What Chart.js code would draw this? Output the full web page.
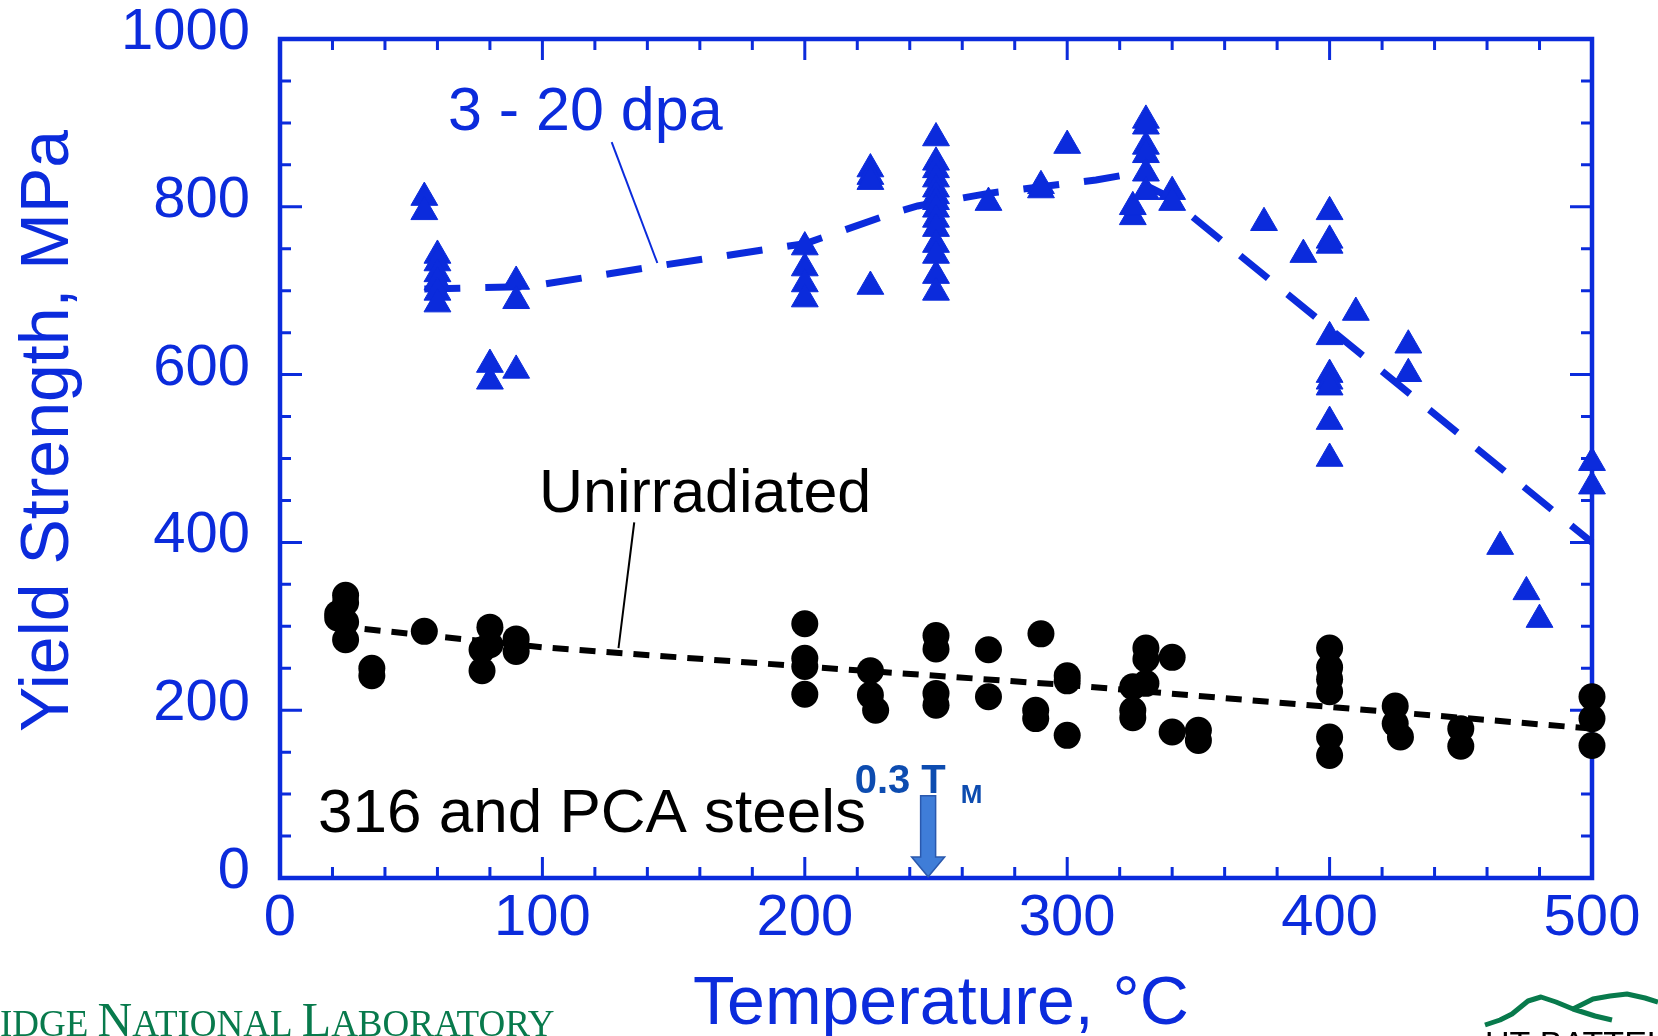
<!DOCTYPE html>
<html>
<head>
<meta charset="utf-8">
<script src="https://cdn.jsdelivr.net/npm/chart.js@4.4.1/dist/chart.umd.min.js"></script>
<style>
  html, body { margin: 0; padding: 0; background: #fff; }
  #wrap { width: 1658px; height: 1036px; }
</style>
</head>
<body>
<div id="wrap"><canvas id="c" width="1658" height="1036"></canvas></div>
<script>
// irradiated (3 - 20 dpa) yield strength, triangles
const irrTemp = [55, 55,
  60, 60, 60, 60, 60, 60,
  80, 80,
  90, 90, 90,
  200, 200, 200, 200,
  225, 225, 225, 225,
  250, 250, 250, 250, 250, 250, 250, 250, 250, 250, 250, 250, 250, 250,
  270, 290, 290, 300,
  325, 325,
  330, 330, 330, 330, 330, 330,
  340, 340, 375, 390,
  400, 400, 400, 400, 400, 400, 400, 400, 400,
  410, 430, 430, 465, 475, 480, 500, 500];
const irrYS = [811, 794,
  742, 733, 720, 710, 698, 684,
  612, 592,
  711, 688, 605,
  752, 727, 708, 690,
  845, 836, 830, 705,
  882, 853, 844, 833, 821, 813, 806, 797, 785, 774, 755, 742, 718, 698,
  805, 825, 820, 873,
  788, 800,
  903, 896, 872, 862, 840, 818,
  818, 805, 781, 743,
  794, 760, 754, 645, 600, 592, 585, 544, 500,
  674, 635, 601, 395, 341, 308, 495, 467];

// unirradiated yield strength, circles
const unirrTemp = [22, 22, 25, 25, 25, 25, 35, 35, 55, 77, 77, 80, 80, 90, 90,
  200, 200, 200, 200, 225, 225, 227,
  250, 250, 250, 250, 270, 270, 288, 288, 290,
  300, 300, 300, 325, 325, 325, 330, 330, 330, 340, 340, 350, 350,
  400, 400, 400, 400, 400, 400, 425, 425, 427, 450, 450, 500, 500, 500];
const unirrYS = [315, 310, 337, 328, 305, 284, 250, 241, 294, 272, 247, 299, 278, 285, 270,
  303, 262, 252, 219, 247, 218, 200,
  289, 273, 220, 206, 272, 216, 200, 190, 291,
  241, 235, 170, 228, 200, 191, 274, 261, 232, 263, 174, 176, 164,
  274, 251, 237, 222, 168, 146, 205, 184, 168, 178, 157, 216, 190, 158];

// hand-drawn trend curves
const dpaFitTemp = [55, 95, 143, 187, 200, 213, 234, 243, 270, 290, 311, 322, 338, 500];
const dpaFitYS = [702, 705, 729, 750, 756, 770, 793, 801, 816, 824, 832, 838, 813, 400];
const unirrFitTemp = [22, 100, 200, 300, 400, 500];
const unirrFitYS = [300, 275, 252, 230, 204, 178];

// axes
const xMin = 0, xMax = 500, xMajor = 100, xMinor = 20;
const yMin = 0, yMax = 1000, yMajor = 200, yMinor = 50;
const tmTemp = 247; // 0.3 T_M marker

const BLUE = '#0b2bdc';
const FONT = "'Liberation Sans', Arial, Helvetica, sans-serif";

const toPts = (xs, ys) => xs.map((v, i) => ({ x: v, y: ys[i] }));

// frame + inward ticks on all four sides
const framePlugin = {
  id: 'frame',
  beforeDatasetsDraw(chart) {
    const { ctx, chartArea: a, scales: { x, y } } = chart;
    ctx.save();
    ctx.strokeStyle = BLUE;
    ctx.lineWidth = 3;
    ctx.beginPath();
    for (let t = xMin; t <= xMax; t += xMinor) {
      const px = x.getPixelForValue(t);
      const len = t % xMajor === 0 ? 21 : 11;
      ctx.moveTo(px, a.bottom); ctx.lineTo(px, a.bottom - len);
      ctx.moveTo(px, a.top); ctx.lineTo(px, a.top + len);
    }
    for (let v = yMin; v <= yMax; v += yMinor) {
      const py = y.getPixelForValue(v);
      const len = v % yMajor === 0 ? 22 : 11;
      ctx.moveTo(a.left, py); ctx.lineTo(a.left + len, py);
      ctx.moveTo(a.right, py); ctx.lineTo(a.right - len, py);
    }
    ctx.stroke();
    ctx.lineWidth = 4.5;
    ctx.strokeRect(a.left, a.top, a.right - a.left, a.bottom - a.top);
    ctx.restore();
  }
};

// titles, labels and the logos along the bottom
const textPlugin = {
  id: 'texts',
  afterDraw(chart) {
    const { ctx, scales: { x, y } } = chart;
    ctx.save();

    // axis titles
    ctx.fillStyle = BLUE;
    ctx.font = `68px ${FONT}`;
    ctx.textAlign = 'center';
    ctx.textBaseline = 'alphabetic';
    ctx.fillText('Temperature, °C', 941, 1024);
    ctx.save();
    ctx.translate(68, 431);
    ctx.rotate(-Math.PI / 2);
    ctx.fillText('Yield Strength, MPa', 0, 0);
    ctx.restore();

    // series labels with leader lines
    ctx.textAlign = 'left';
    ctx.font = `61px ${FONT}`;
    ctx.fillText('3 - 20 dpa', x.getPixelForValue(64), y.getPixelForValue(891));
    ctx.strokeStyle = BLUE;
    ctx.lineWidth = 2;
    ctx.beginPath();
    ctx.moveTo(x.getPixelForValue(126.4), y.getPixelForValue(877));
    ctx.lineTo(x.getPixelForValue(143.8), y.getPixelForValue(733));
    ctx.stroke();

    ctx.fillStyle = '#000';
    ctx.strokeStyle = '#000';
    ctx.fillText('Unirradiated', x.getPixelForValue(98.7), y.getPixelForValue(436));
    ctx.beginPath();
    ctx.moveTo(x.getPixelForValue(135), y.getPixelForValue(424));
    ctx.lineTo(x.getPixelForValue(129), y.getPixelForValue(274));
    ctx.stroke();

    ctx.font = `62px ${FONT}`;
    ctx.fillText('316 and PCA steels', x.getPixelForValue(14.5), y.getPixelForValue(55));

    // 0.3 T_M
    ctx.fillStyle = '#0d4cb0';
    ctx.font = `bold 40px ${FONT}`;
    const tx = x.getPixelForValue(219);
    ctx.fillText('0.3 T', tx, y.getPixelForValue(101));
    const w = ctx.measureText('0.3 T').width;
    ctx.font = `bold 26px ${FONT}`;
    ctx.fillText('M', tx + w + 15, y.getPixelForValue(89));

    // arrow down to the axis
    const ax = x.getPixelForValue(tmTemp);
    const top = y.getPixelForValue(98), neck = y.getPixelForValue(25), tip = y.getPixelForValue(1.5);
    ctx.beginPath();
    ctx.moveTo(ax - 7.5, top); ctx.lineTo(ax + 7.5, top);
    ctx.lineTo(ax + 7.5, neck); ctx.lineTo(ax + 16.5, neck);
    ctx.lineTo(ax, tip);
    ctx.lineTo(ax - 16.5, neck); ctx.lineTo(ax - 7.5, neck);
    ctx.closePath();
    ctx.fillStyle = '#3f7dd8';
    ctx.fill();
    ctx.strokeStyle = '#2a58ad';
    ctx.lineWidth = 1.5;
    ctx.stroke();

    // lab name, cut at the left edge
    const GREEN = '#087a4c';
    ctx.fillStyle = GREEN;
    ctx.textBaseline = 'alphabetic';
    let px = 0;
    const parts = [['IDGE ', 37], ['N', 48], ['ATIONAL ', 37], ['L', 48], ['ABORATORY', 37]];
    for (const [s, sz] of parts) {
      ctx.font = `${sz}px 'Liberation Serif', 'Times New Roman', serif`;
      ctx.fillText(s, px, 1036);
      px += ctx.measureText(s).width;
    }

    // mountain logo, bottom right
    ctx.strokeStyle = GREEN;
    ctx.lineWidth = 5;
    ctx.lineJoin = 'round';
    ctx.beginPath();
    ctx.moveTo(1485, 1025); ctx.lineTo(1500, 1020); ctx.lineTo(1512, 1014);
    ctx.lineTo(1528, 1001); ctx.lineTo(1541, 997); ctx.lineTo(1556, 1002);
    ctx.lineTo(1573, 1009); ctx.lineTo(1595, 1016); ctx.lineTo(1612, 1020);
    ctx.moveTo(1573, 1009); ctx.lineTo(1593, 999); ctx.lineTo(1610, 996);
    ctx.lineTo(1627, 994); ctx.lineTo(1645, 998); ctx.lineTo(1658, 1002);
    ctx.stroke();
    ctx.fillStyle = '#000';
    ctx.font = `34px ${FONT}`;
    ctx.textBaseline = 'top';
    ctx.fillText('UT-BATTELLE', 1485, 1029);

    ctx.restore();
  }
};

new Chart(document.getElementById('c'), {
  type: 'scatter',
  data: {
    datasets: [
      {
        data: toPts(irrTemp, irrYS),
        pointStyle: 'triangle', pointRadius: 15.5,
        backgroundColor: BLUE, borderColor: BLUE, borderWidth: 1,
        clip: false
      },
      {
        data: toPts(unirrTemp, unirrYS),
        pointStyle: 'circle', pointRadius: 13.5,
        backgroundColor: '#000', borderColor: '#000', borderWidth: 0,
        clip: false
      },
      {
        data: toPts(dpaFitTemp, dpaFitYS),
        showLine: true, pointRadius: 0,
        borderColor: BLUE, borderWidth: 7, borderDash: [36, 25],
        borderCapStyle: 'butt', tension: 0, clip: false
      },
      {
        data: toPts(unirrFitTemp, unirrFitYS),
        showLine: true, pointRadius: 0,
        borderColor: '#000', borderWidth: 6, borderDash: [16, 11],
        borderCapStyle: 'butt', tension: 0, clip: false
      }
    ]
  },
  options: {
    responsive: false,
    animation: false,
    layout: { padding: { left: 0, top: 39, right: 66, bottom: 0 } },
    plugins: { legend: { display: false }, tooltip: { enabled: false } },
    scales: {
      x: {
        type: 'linear', min: xMin, max: xMax,
        afterFit: s => { s.height = 158; s.paddingLeft = 0; s.paddingRight = 0; },
        grid: { display: false, drawTicks: false },
        border: { display: false },
        ticks: { stepSize: xMajor, color: BLUE, font: { family: FONT, size: 58 }, padding: 6, maxRotation: 0 }
      },
      y: {
        type: 'linear', min: yMin, max: yMax,
        afterFit: s => { s.width = 280; s.paddingTop = 0; s.paddingBottom = 0; },
        grid: { display: false, drawTicks: false },
        border: { display: false },
        ticks: {
          stepSize: yMajor, color: BLUE, font: { family: FONT, size: 58 }, padding: 30, labelOffset: -6,
          callback: v => String(v)
        }
      }
    }
  },
  plugins: [framePlugin, textPlugin]
});
</script>
</body>
</html>
